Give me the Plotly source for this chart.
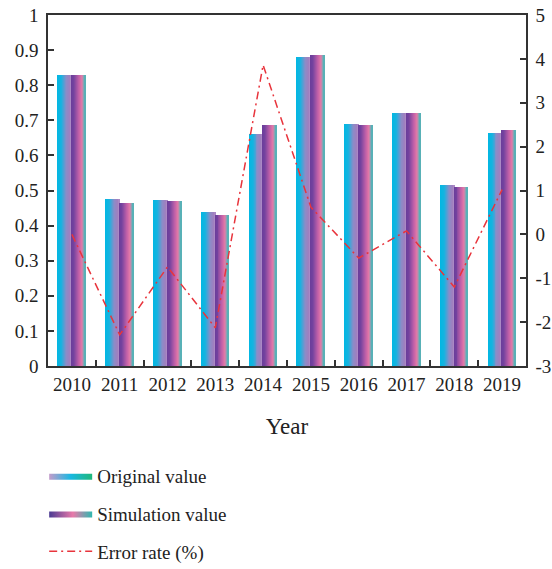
import plotly.graph_objects as go

years = ["2010", "2011", "2012", "2013", "2014", "2015", "2016", "2017", "2018", "2019"]
original_value = [0.830, 0.475, 0.473, 0.440, 0.660, 0.880, 0.689, 0.720, 0.516, 0.664]
simulation_value = [0.829, 0.465, 0.470, 0.430, 0.686, 0.885, 0.686, 0.720, 0.509, 0.671]
error_rate = [0.0, -2.29, -0.74, -2.13, 3.86, 0.62, -0.54, 0.08, -1.20, 1.02]

left_ticks = [0, 0.1, 0.2, 0.3, 0.4, 0.5, 0.6, 0.7, 0.8, 0.9, 1]
right_ticks = [-3, -2, -1, 0, 1, 2, 3, 4, 5]
right_labels = ["-3", "-2", "-1", "0", "1", "2", "3", "4", "5"]

orig_stops = [(0.0, "#00b7e3"), (0.3, "#16b3e0"), (0.65, "#8a8cc8"), (0.95, "#a57dbd"), (1.0, "#b8a8d8")]
sim_stops = [(0.0, "#6a3d9a"), (0.2, "#74439f"), (0.55, "#c060a8"), (0.78, "#e47aa8"), (0.9, "#8aa2b4"), (1.0, "#3cb9b8")]


def hex2rgb(h):
    h = h.lstrip("#")
    return tuple(int(h[i:i + 2], 16) for i in (0, 2, 4))


def interp(stops, t):
    for (t0, c0), (t1, c1) in zip(stops[:-1], stops[1:]):
        if t0 <= t <= t1:
            a, b = hex2rgb(c0), hex2rgb(c1)
            f = (t - t0) / (t1 - t0) if t1 > t0 else 0
            return "rgb(%d,%d,%d)" % tuple(round(a[i] + (b[i] - a[i]) * f) for i in range(3))
    return stops[-1][1]


fig = go.Figure()

K = 14
bar_w = 0.287
series = [(original_value, orig_stops, -bar_w - 0.005), (simulation_value, sim_stops, -0.005)]
for vals, stops, start in series:
    sw = bar_w / K
    for k in range(K):
        t = (k + 0.5) / K
        fig.add_trace(go.Bar(
            x=years, y=vals, offset=start + k * sw, width=sw * 1.05,
            marker=dict(color=interp(stops, t), line=dict(width=0)),
            showlegend=False, hoverinfo="skip", yaxis="y",
        ))

# legend entries with gradient icons
fig.add_trace(go.Scatter(
    x=[None], y=[None], mode="lines", fill="toself", line=dict(width=0),
    fillgradient=dict(type="horizontal", colorscale=[[0, "#c39ccb"], [0.5, "#18b8e2"], [1, "#1fb87a"]]),
    name="Original value", legendgroup="a",
))
fig.add_trace(go.Scatter(
    x=[None], y=[None], mode="lines", fill="toself", line=dict(width=0),
    fillgradient=dict(type="horizontal", colorscale=[[0, "#4b3a92"], [0.55, "#e87aaa"], [1, "#2fb8b0"]]),
    name="Simulation value", legendgroup="b",
))

fig.add_trace(go.Scatter(
    x=years, y=error_rate, mode="lines", yaxis="y2",
    line=dict(color="#e8343c", width=1.5, dash="8px,4px,2px,4px"),
    name="Error rate (%)", legendgroup="c",
))

font = dict(family="Liberation Serif", size=19, color="#222")
fig.update_layout(
    width=552, height=569,
    margin=dict(l=48, r=26, t=15, b=203, autoexpand=False),
    paper_bgcolor="white", plot_bgcolor="white",
    barmode="overlay", bargap=0,
    font=font,
    showlegend=True,
    legend=dict(x=-0.008, xanchor="left", y=-0.259, yanchor="top", orientation="v",
                itemwidth=43,
                tracegroupgap=10, font=dict(family="Liberation Serif", size=19, color="#222"),
                bgcolor="rgba(0,0,0,0)"),
    xaxis=dict(type="category", categoryorder="array", categoryarray=years,
               showline=True, linecolor="#333", linewidth=1.5, mirror=True,
               ticks="inside", tickson="boundaries", ticklen=6, tickcolor="#333", tickwidth=1.5,
               tickangle=0, automargin=False,
               showgrid=False, zeroline=False,
               title=dict(text="Year", standoff=24), range=[-0.5, 9.5]),
    yaxis=dict(range=[0, 1], tickvals=left_ticks, showline=True, linecolor="#333", linewidth=1.5,
               ticks="inside", ticklen=6, tickcolor="#333", tickwidth=1.5,
               ticklabelstandoff=4, automargin=False, ticklabeloverflow="allow",
               showgrid=False, zeroline=False),
    yaxis2=dict(range=[-3, 5], overlaying="y", side="right", tickvals=right_ticks, ticktext=right_labels,
                showline=True, linecolor="#333", linewidth=1.5,
                ticks="inside", ticklen=6, tickcolor="#333", tickwidth=1.5,
                ticklabelstandoff=4, automargin=False, ticklabeloverflow="allow",
                showgrid=False, zeroline=False),
)

fig.write_html("out.html", config={"displayModeBar": False},
               post_script="document.body.style.margin='0';")
